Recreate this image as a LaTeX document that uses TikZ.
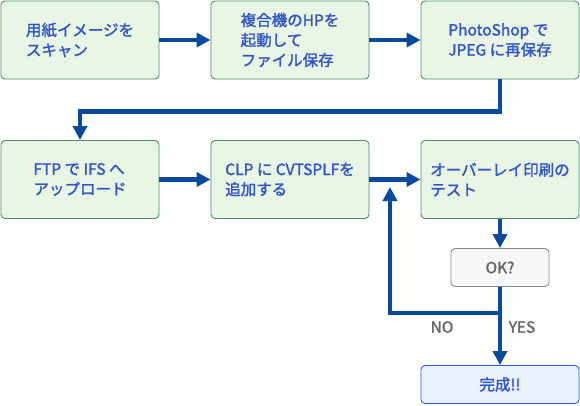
\documentclass[tikz,border=0pt]{standalone}
\usepackage{fontspec}
\setmainfont{Noto Sans CJK JP}[FakeBold=1.6]
\usetikzlibrary{arrows.meta}
\definecolor{boxfill}{HTML}{E9F6E5}
\definecolor{boxline}{HTML}{4A9068}
\definecolor{txtblue}{HTML}{2F55C8}
\definecolor{arrblue}{HTML}{0A4A9C}
\definecolor{okfill}{HTML}{F8F8F8}
\definecolor{okline}{HTML}{8A8A8A}
\definecolor{gtext}{HTML}{666666}
\definecolor{donefill}{HTML}{EBF2FD}
\definecolor{doneline}{HTML}{2E5FD0}
\tikzset{
  stepbox/.style={draw=boxline, fill=boxfill, line width=0.9pt, rounded corners=4pt,
    minimum width=158pt, minimum height=78pt, inner sep=0pt, align=left,
    text=txtblue, font=\fontsize{15.5}{20}\selectfont},
  okbox/.style={draw=okline, fill=okfill, line width=0.9pt, rounded corners=4pt,
    minimum width=98pt, minimum height=38pt, inner sep=0pt,
    text=gtext, font=\fontsize{15.5}{20}\selectfont},
  donebox/.style={draw=doneline, fill=donefill, line width=0.9pt, rounded corners=4pt,
    minimum width=158pt, minimum height=38pt, inner sep=0pt,
    text=txtblue, font=\fontsize{15.5}{20}\selectfont},
  arr/.style={draw=arrblue, line width=4.5pt, -{Triangle[length=14pt,width=14pt]}},
  lbl/.style={text=gtext, font=\fontsize{15.5}{20}\selectfont},
}
\begin{document}
\begin{tikzpicture}[x=1pt,y=-1pt]
\useasboundingbox (0,0) rectangle (580,405);
\node[stepbox] (b1) at (80,40) {用紙イメージを\\スキャン};
\node[stepbox] (b2) at (290,40) {複合機のHPを\\起動して\\ファイル保存};
\node[stepbox] (b3) at (500,40) {PhotoShop で\\JPEG に再保存};
\node[stepbox] (b4) at (80,179.5) {FTP で IFS へ\\アップロード};
\node[stepbox] (b5) at (290,179.5) {CLP に CVTSPLFを\\追加する};
\node[stepbox] (b6) at (500,179.5) {オーバーレイ印刷の\\テスト};
\node[okbox] (ok) at (500,267.5) {OK?};
\node[donebox] (done) at (500,384.5) {完成!!};
\coordinate (j) at (500,313);
\coordinate (loopend) at (390,187);
\node[lbl] (no) at (442,327) {NO};
\node[lbl] (yes) at (522,327) {YES};
\draw[arr] (b1) -- (b2);
\draw[arr] (b2) -- (b3);
\draw[arr] (b3.south) -- ++(0,32) -| (b4.north);
\draw[arr] (b4) -- (b5);
\draw[arr] (b5) -- (b6);
\draw[arr] (b6) -- (ok);
\draw[arr] (ok) -- (done);
\draw[arr] (j) -| (loopend);
\end{tikzpicture}
\end{document}
